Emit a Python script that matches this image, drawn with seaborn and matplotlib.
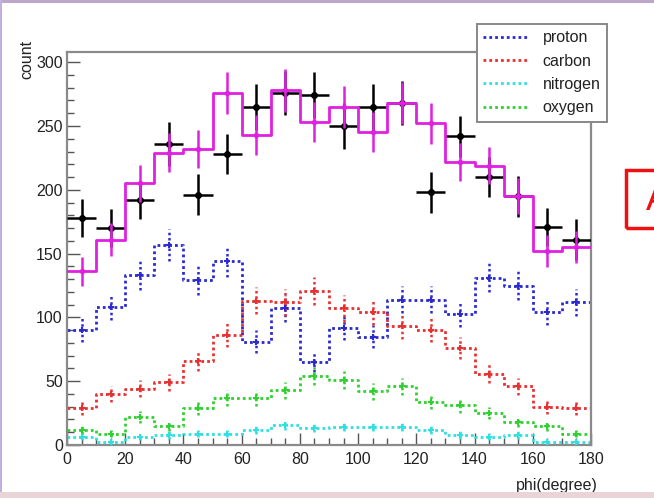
import numpy as np
import pandas as pd
import matplotlib
matplotlib.use("Agg")
import matplotlib.pyplot as plt
import seaborn as sns
from matplotlib.lines import Line2D
from matplotlib.patches import Rectangle
from matplotlib.ticker import MultipleLocator

# ---------------- data ----------------
phi_edges = [0, 10, 20, 30, 40, 50, 60, 70, 80, 90, 100, 110, 120, 130, 140, 150, 160, 170, 180]

data_counts = [178, 170, 192, 236, 196, 228, 265, 276, 274, 250, 265, 268, 198, 242, 210, 195, 171, 161]
data_errors = [15, 15, 15, 17, 16, 16, 18, 17, 18, 18, 18, 17, 16, 16, 16, 16, 15, 16]

total_mc = [136, 161, 205, 229, 232, 276, 243, 278, 253, 265, 245, 268, 252, 222, 219, 195, 152, 155]
proton   = [90, 108, 133, 157, 129, 144, 81, 107, 65, 92, 85, 114, 114, 103, 131, 125, 104, 112]
carbon   = [29, 40, 44, 49, 66, 86, 113, 112, 121, 107, 104, 93, 90, 76, 56, 46, 30, 29]
nitrogen = [6.5, 2.6, 6, 7.8, 9, 9, 12, 15.5, 13.5, 14.4, 14.4, 14.4, 12, 7.8, 6.5, 7.8, 2.6, 2.6]
oxygen   = [12, 9, 22, 15, 29, 37, 37, 43, 54, 51, 42, 46, 34, 31, 25, 18, 15, 9]

species = ["proton", "carbon", "nitrogen", "oxygen"]
species_values = [proton, carbon, nitrogen, oxygen]
species_colors = ["#2a2ad0", "#e83030", "#30e0e0", "#30d030"]
total_color = "#e020e0"

xlabel = "phi(degree)"
ylabel = "count"

# ---------------- figure ----------------
sns.set_style("ticks")
plt.rcParams["font.family"] = ["Liberation Sans", "DejaVu Sans"]

W, H = 654, 498
fig = plt.figure(figsize=(W / 100, H / 100), dpi=100)
fig.patch.set_facecolor("white")

x0, x1, y0, y1 = 67, 591, 52, 445
ax = fig.add_axes([x0 / W, 1 - y1 / H, (x1 - x0) / W, (y1 - y0) / H])

edges = np.asarray(phi_edges, dtype=float)
centers = 0.5 * (edges[:-1] + edges[1:])
halfw = 0.5 * (edges[1:] - edges[:-1])
dotted = (0, (1, 1.1))

def step_hist(vals, color, ls, z):
    df = pd.DataFrame({"phi": centers, "n": np.asarray(vals, dtype=float)})
    sns.histplot(data=df, x="phi", weights="n", bins=list(phi_edges), element="step",
                 fill=False, color=color, linestyle=ls, linewidth=2.0, ax=ax, zorder=z)

# species histograms (dotted) with their sqrt(N) error bars (as ROOT computes them)
for name, vals, col in zip(species, species_values, species_colors):
    vals = np.asarray(vals, dtype=float)
    step_hist(vals, col, dotted, 2)
    eb = ax.errorbar(centers, vals, yerr=np.sqrt(vals), fmt="+", color=col,
                     markersize=5, markeredgewidth=1.5, elinewidth=1.8, capsize=0, zorder=3)
    eb[2][0].set_linestyle(dotted)

# data points (black)
ax.errorbar(centers, data_counts, xerr=halfw, yerr=data_errors, fmt="o", color="black",
            markersize=4, elinewidth=1.8, capsize=0, zorder=4)

# total simulation (magenta, solid)
tot = np.asarray(total_mc, dtype=float)
step_hist(tot, total_color, "-", 5)
ax.errorbar(centers, tot, yerr=np.sqrt(tot), fmt="o", color=total_color,
            markersize=3, elinewidth=1.8, capsize=0, zorder=5)

ax.set_xlim(0, 180)
ax.set_ylim(0, 308)
ax.xaxis.set_major_locator(MultipleLocator(20))
ax.xaxis.set_minor_locator(MultipleLocator(5))
ax.yaxis.set_major_locator(MultipleLocator(50))
ax.yaxis.set_minor_locator(MultipleLocator(10))
ax.tick_params(axis="both", which="both", direction="in", top=False, right=False,
               colors="#555555", labelcolor="#222222", labelsize=11.5)
ax.tick_params(axis="both", which="major", length=9, width=1.0)
ax.tick_params(axis="both", which="minor", length=5, width=1.0)
ax.tick_params(axis="y", pad=3)
ax.tick_params(axis="x", pad=5)
for s in ax.spines.values():
    s.set_color("#8a8a8a")
    s.set_linewidth(1.6)
    s.set_visible(True)

ax.set_xlabel(xlabel, fontsize=11.5, color="#222222", ha="right")
ax.xaxis.set_label_coords(1.013, -0.085)
ax.set_ylabel(ylabel, fontsize=11.5, color="#222222", loc="top")
ax.yaxis.set_label_coords(-0.062, 1.03)
ax.grid(False)

# legend box
handles = [Line2D([], [], color=c, linestyle=dotted, linewidth=2.0) for c in species_colors]
leg = fig.legend(handles, species, loc="upper left",
                 bbox_to_anchor=(477 / W, 1 - 24 / H), bbox_transform=fig.transFigure,
                 fontsize=11.5, handlelength=2.75, handletextpad=0.95, labelspacing=0.52,
                 borderpad=0.4, borderaxespad=0, fancybox=False, framealpha=1, edgecolor="#888888")
leg.get_frame().set_linewidth(1.4)
for t in leg.get_texts():
    t.set_color("#222222")

# decorative page border and the red "A" box
fig.add_artist(Rectangle((0, 1 - 3 / H), 1, 3 / H, transform=fig.transFigure,
                         facecolor="#bca6cc", edgecolor="none"))
fig.add_artist(Rectangle((0, 0), 1.5 / W, 1, transform=fig.transFigure,
                         facecolor="#c0b0dd", edgecolor="none"))
fig.add_artist(Rectangle((0, 0), 1, 6 / H, transform=fig.transFigure,
                         facecolor="#ead4d8", edgecolor="none"))
fig.add_artist(Rectangle((626 / W, 1 - 228 / H), 60 / W, 58 / H, transform=fig.transFigure,
                         facecolor="none", edgecolor="#ee1111", linewidth=2.5))
fig.text(646 / W, 1 - 200 / H, "A", color="#ee1111", fontsize=26, ha="left", va="center")

fig.savefig("out.png", dpi=100)
